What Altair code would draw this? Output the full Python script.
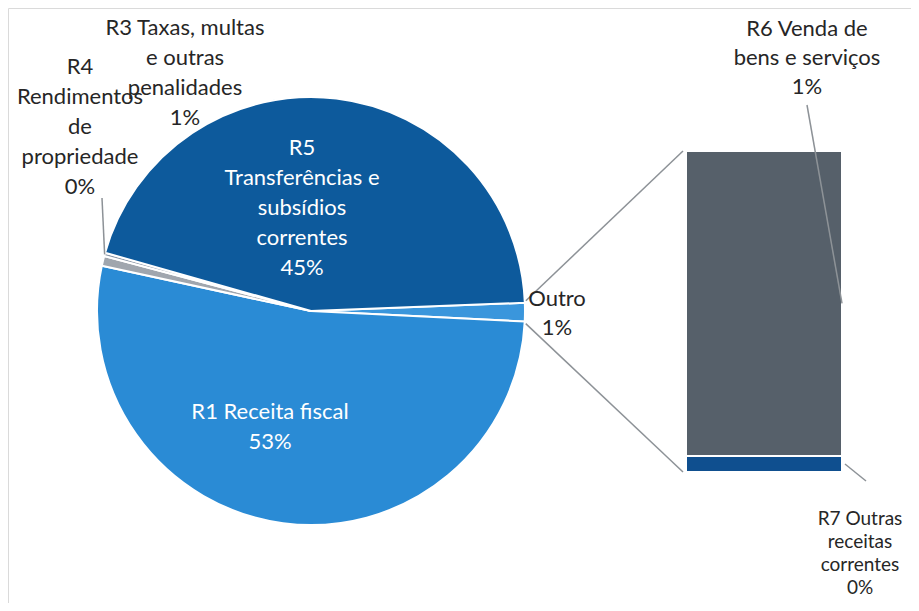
import math
import altair as alt
import pandas as pd

# ---------------- data ----------------
pie_cats = ["Outro", "R1", "R3", "R4", "R5"]
pie_vals = [1.4, 52.6, 0.75, 0.25, 45.0]
bar_cats = ["R7", "R6"]
bar_vals = [0.07, 1.33]
label_lines = {
    "R1": ["R1 Receita fiscal"],
    "R3": ["R3 Taxas, multas", "e outras", "penalidades"],
    "R4": ["R4", "Rendimentos", "de", "propriedade"],
    "R5": ["R5", "Transferências e", "subsídios", "correntes"],
    "Outro": ["Outro"],
    "R6": ["R6 Venda de", "bens e serviços"],
    "R7": ["R7 Outras", "receitas", "correntes"],
}
values = dict(zip(pie_cats + bar_cats, pie_vals + bar_vals))

# ---------------- layout / style ----------------
W, H = 903, 595
CX, CY, R = 303, 303, 214
START_DEG = 87.8
BAR_X0, BAR_X1 = 678, 834
BAR_Y_BOTTOM, BAR_Y_TOP = 464, 143
FONT = "Lato"
color_domain = ["Outro", "R1", "R3", "R4", "R5", "R6", "R7"]
color_range = ["#3a96dc", "#2a8bd5", "#a0a6ae", "#8a96a6", "#0d5a9c", "#56606a", "#0f4f8f"]
# label anchors: centre x, first-line y, line spacing, text colour, font size
label_pos = {
    "R5": (294, 140, 30, "white", 22),
    "R1": (262, 404, 30, "white", 22),
    "R3": (177, 20, 30, "#262626", 22),
    "R4": (72, 59, 30, "#262626", 22),
    "Outro": (549, 291, 29, "#262626", 22),
    "R6": (799, 21, 29, "#262626", 22),
    "R7": (852, 511, 23, "#262626", 19),
}

# ---------------- derived geometry ----------------
total = sum(pie_vals)
deg_per = 360.0 / total
start_rad = math.radians(START_DEG)


def edge(deg, r=R):
    a = math.radians(deg)
    return CX + r * math.sin(a), CY - r * math.cos(a)


cum = START_DEG
angles = {}
for c, v in zip(pie_cats, pie_vals):
    angles[c] = (cum, cum + v * deg_per)
    cum += v * deg_per

bar_total = sum(bar_vals)


def bar_y(v):
    return BAR_Y_BOTTOM + (BAR_Y_TOP - BAR_Y_BOTTOM) * v / bar_total


bar_cum = {}
acc = 0.0
for c, v in zip(bar_cats, bar_vals):
    bar_cum[c] = (acc, acc + v)
    acc += v

# ---------------- pie ----------------
pie_df = pd.DataFrame({"cat": pie_cats, "val": pie_vals, "ord": list(range(len(pie_cats)))})
color_scale = alt.Scale(domain=color_domain, range=color_range)

pie = alt.Chart(pie_df).mark_arc(radius=R, stroke="white", strokeWidth=2).encode(
    theta=alt.Theta("val:Q", stack=True,
                    scale=alt.Scale(domain=[0, total], range=[start_rad, start_rad + 2 * math.pi])),
    color=alt.Color("cat:N", scale=color_scale, legend=None),
    order=alt.Order("ord:Q"),
    x=alt.value(CX),
    y=alt.value(CY),
)

# ---------------- bar (stacked, own scale) ----------------
bar_df = pd.DataFrame({"cat": bar_cats, "val": bar_vals, "ord": [0, 1]})
bar = alt.Chart(bar_df).transform_stack(
    stack="val", as_=["v0", "v1"], groupby=[], sort=[alt.SortField("ord", order="ascending")]
).mark_rect(stroke="white", strokeWidth=2).encode(
    x=alt.value(BAR_X0),
    x2=alt.value(BAR_X1),
    y=alt.Y("v0:Q", scale=alt.Scale(domain=[0, bar_total], range=[BAR_Y_BOTTOM, BAR_Y_TOP]), axis=None),
    y2="v1:Q",
    color=alt.Color("cat:N", scale=color_scale, legend=None),
)

# ---------------- connector and leader lines ----------------
p_top = edge(angles["Outro"][0])
p_bot = edge(angles["Outro"][1])
r4_mid = sum(angles["R4"]) / 2
p_r4 = edge(r4_mid)
r6_mid = bar_y(sum(bar_cum["R6"]) / 2)
r7_mid = bar_y(sum(bar_cum["R7"]) / 2)
lines_df = pd.DataFrame([
    {"x": p_top[0] + 1, "y": p_top[1] - 2, "x2": BAR_X0 - 3, "y2": BAR_Y_TOP},
    {"x": p_bot[0] + 1, "y": p_bot[1] + 2, "x2": BAR_X0 - 3, "y2": BAR_Y_BOTTOM},
    {"x": 94, "y": 190, "x2": p_r4[0], "y2": p_r4[1]},
    {"x": 799, "y": 97, "x2": BAR_X1, "y2": r6_mid},
    {"x": BAR_X1 + 3, "y": r7_mid, "x2": 858, "y2": 473},
])
rules = alt.Chart(lines_df).mark_rule(color="#8d9297", strokeWidth=1.5).encode(
    x=alt.X("x:Q", scale=None), y=alt.Y("y:Q", scale=None),
    x2="x2:Q", y2="y2:Q",
)

# ---------------- labels ----------------
rows = []
for c, lines in label_lines.items():
    lx, ly, sp, col, fs = label_pos[c]
    pct = f"{int(values[c] + 0.5)}%"
    for i, t in enumerate(lines + [pct]):
        rows.append({"x": lx, "y": ly + i * sp, "text": t, "col": col, "fs": fs})
lab_df = pd.DataFrame(rows)


def text_layer(col, fs):
    sub = lab_df[(lab_df["col"] == col) & (lab_df["fs"] == fs)]
    return alt.Chart(sub).mark_text(
        font=FONT, fontSize=fs, color=col, align="center", baseline="middle"
    ).encode(
        x=alt.X("x:Q", scale=None), y=alt.Y("y:Q", scale=None), text="text:N"
    )


chart = alt.layer(
    pie, bar, rules,
    text_layer("white", 22), text_layer("#262626", 22), text_layer("#262626", 19),
).resolve_scale(
    x="independent", y="independent"
).properties(
    width=W, height=H, padding=0, autosize=alt.AutoSizeParams(type="none"),
    background="white",
).configure_view(stroke="#dadada")

chart.save("out.html", embed_options={"renderer": "svg", "actions": False})
